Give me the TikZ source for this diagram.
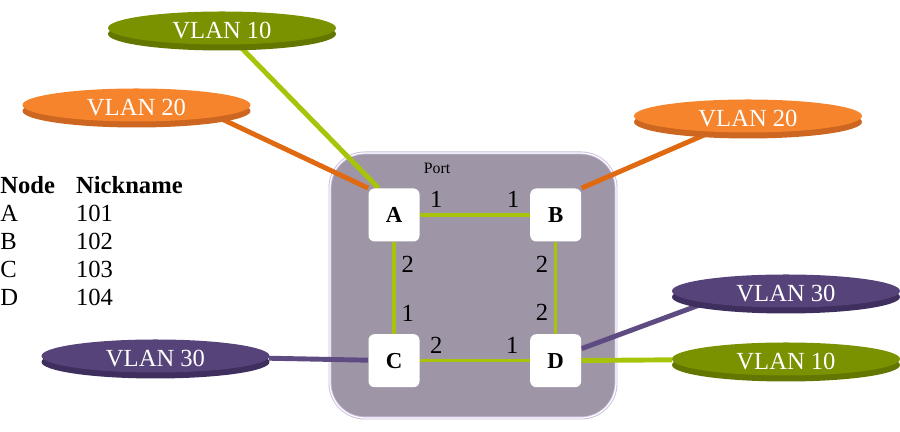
\documentclass[tikz,border=0pt]{standalone}
\usepackage{fontspec}
\setmainfont{Liberation Serif}
\usetikzlibrary{positioning, shapes.geometric, shadows}
\definecolor{linkgreen}{RGB}{168, 196, 10}
\definecolor{vgreen}{RGB}{122, 146, 0}
\definecolor{vgreendark}{RGB}{99, 119, 0}
\definecolor{vorange}{RGB}{245, 132, 44}
\definecolor{vorangedark}{RGB}{204, 102, 32}
\definecolor{linkorange}{RGB}{224, 106, 18}
\definecolor{vpurple}{RGB}{85, 67, 122}
\definecolor{vpurpledark}{RGB}{62, 47, 94}
\definecolor{linkpurple}{RGB}{94, 75, 130}
\definecolor{portfill}{RGB}{158, 150, 166}
\definecolor{portedge}{RGB}{200, 188, 220}
\pgfdeclarelayer{back}
\pgfdeclarelayer{wires}
\pgfsetlayers{back,wires,main}

\begin{document}
\begin{tikzpicture}[node distance=1.5cm]
    \tikzstyle{switch} = [rectangle, rounded corners=0.12cm, fill=white, minimum width=1.02cm, minimum height=1.06cm, font=\fontsize{13}{15}\selectfont\bfseries]
    \tikzstyle{vlan} = [ellipse, minimum width=4.56cm, minimum height=0.66cm, inner sep=0pt, text height=12pt, text=white, font=\fontsize{14}{16}\selectfont]
    \tikzstyle{green vlan} = [vlan, fill=vgreen, general shadow={fill=vgreendark, shadow xshift=0pt, shadow yshift=-0.12cm}]
    \tikzstyle{orange vlan} = [vlan, fill=vorange, general shadow={fill=vorangedark, shadow xshift=0pt, shadow yshift=-0.12cm}]
    \tikzstyle{purple vlan} = [vlan, fill=vpurple, general shadow={fill=vpurpledark, shadow xshift=0pt, shadow yshift=-0.12cm}]
    \tikzstyle{portbox} = [rectangle, rounded corners=0.7cm, minimum width=5.72cm, minimum height=5.3cm, fill=portfill, draw=portedge, line width=0.5pt, double=white, double distance=0.7pt]
    \tikzstyle{trunk} = [line width=2pt, draw=linkgreen]
    \tikzstyle{access} = [line width=2.8pt]
    \tikzstyle{portno} = [font=\fontsize{14}{16}\selectfont]

    \useasboundingbox (0,0) rectangle (18,8.64);

    % switches
    \node (A) [switch] at (7.88,4.34) {A};
    \node (B) [switch, right=2.2cm of A] {B};
    \node (C) [switch, below=1.84cm of A] {C};
    \node (D) [switch, below=1.84cm of B] {D};

    \begin{pgfonlayer}{back}
        \node (port) [portbox] at (9.46,2.93) {};
    \end{pgfonlayer}
    \node (portlbl) [font=\fontsize{9}{10}\selectfont] at (8.74,5.28) {Port};

    % vlans
    \node (v10a) [green vlan] at (4.44,8.08) {VLAN 10};
    \node (v20a) [orange vlan] at (2.73,6.54) {VLAN 20};
    \node (v20b) [orange vlan] at (14.96,6.32) {VLAN 20};
    \node (v30b) [purple vlan] at (15.72,2.82) {VLAN 30};
    \node (v10b) [green vlan] at (15.72,1.46) {VLAN 10};
    \node (v30a) [purple vlan] at (3.11,1.52) {VLAN 30};

    % nickname table
    \node (nicks) [anchor=north west, inner sep=0pt, font=\fontsize{14}{16}\selectfont] at (0,5.18) {%
        \begin{tabular}{@{}l@{\hspace{12pt}}l@{}}
            \textbf{Node} & \textbf{Nickname}\\
            A & 101\\
            B & 102\\
            C & 103\\
            D & 104
        \end{tabular}};

    \begin{pgfonlayer}{wires}
        \draw [access, draw=linkgreen] (v10a) -- (A.120);
        \draw [access, draw=linkorange] (v20a.south east) -- (A.north west);
        \draw [access, draw=linkorange] (v20b) -- (B.north east);
        \draw [access, draw=linkpurple] (v30b.south west) -- (D.25);
        \draw [access, draw=linkgreen] (v10b) -- (D);
        \draw [access, draw=linkpurple] (v30a) -- (C);
    \end{pgfonlayer}

    \draw [trunk] (A) -- node[portno, pos=0.15, above] {1} node[portno, pos=0.85, above] {1} (B);
    \draw [trunk] (A) -- node[portno, pos=0.25, right] {2} node[portno, pos=0.78, right] {1} (C);
    \draw [trunk] (B) -- node[portno, pos=0.24, left] {2} node[portno, pos=0.77, left] {2} (D);
    \draw [trunk] (C) -- node[portno, pos=0.15, above] {2} node[portno, pos=0.84, above] {1} (D);
\end{tikzpicture}
\end{document}
